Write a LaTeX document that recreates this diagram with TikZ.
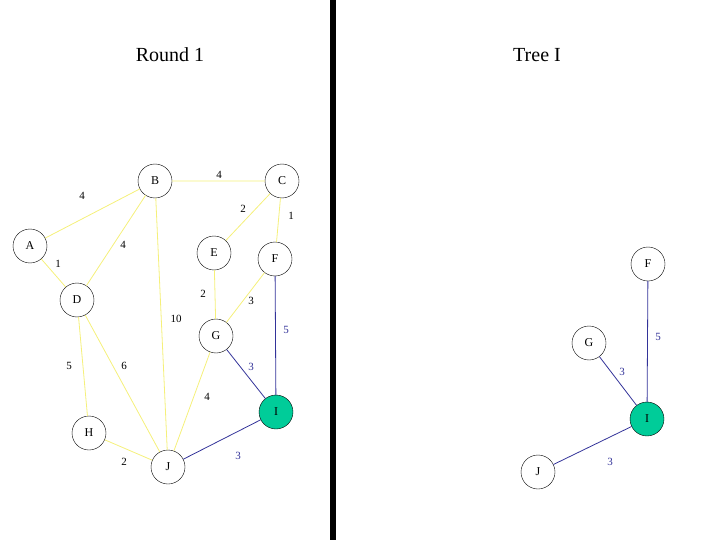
\documentclass[tikz,border=0pt]{standalone}
\usepackage{fontspec}
\setmainfont{Liberation Serif}
\definecolor{ye}{HTML}{F5F07A}
\definecolor{nv}{HTML}{333399}
\definecolor{gr}{HTML}{00CC99}
\begin{document}
\begin{tikzpicture}[x=1pt,y=-1pt,
  vx/.style={circle,draw,fill=white,minimum size=34pt,inner sep=0pt,font=\fontsize{12}{12}\selectfont},
  hot/.style={vx,fill=gr},
  ye/.style={draw=ye,line width=0.8pt},
  nv/.style={draw=nv,line width=0.8pt},
  lb/.style={font=\fontsize{11}{11}\selectfont},
  nl/.style={lb,text=nv},
  ttl/.style={font=\fontsize{20}{20}\selectfont}]
\useasboundingbox (0,0) rectangle (720,540);
\fill (330,0) rectangle (336,540);
\node[ttl] (t1) at (170,55) {Round 1};
\node[ttl] (t2) at (537,55) {Tree I};
% left graph
\node[vx] (B) at (155,181) {B};
\node[vx] (C) at (282,181) {C};
\node[vx] (A) at (30,246) {A};
\node[vx] (E) at (214,253) {E};
\node[vx] (F) at (275,259) {F};
\node[vx] (D) at (77,300) {D};
\node[vx] (G) at (216,336) {G};
\node[hot] (I) at (276,412) {I};
\node[vx] (H) at (89,433) {H};
\node[vx] (J) at (168,467) {J};
\begin{scope}[on background layer/.style={}]
\end{scope}
\draw[ye] (A)--(B) (B)--(C) (C)--(E) (C)--(F) (A)--(D) (B)--(D) (B)--(J)
 (E)--(G) (F)--(G) (D)--(H) (D)--(J) (G)--(J) (H)--(J);
\draw[nv] (F)--(I) (G)--(I) (I)--(J);
\node[lb] (l1) at (82,196) {4};
\node[lb] (l2) at (219,175) {4};
\node[lb] (l3) at (243,209) {2};
\node[lb] (l4) at (291,216) {1};
\node[lb] (l5) at (58,264) {1};
\node[lb] (l6) at (123,245) {4};
\node[lb] (l7) at (176,319) {10};
\node[lb] (l8) at (203,294) {2};
\node[lb] (l9) at (251,301) {3};
\node[lb] (l10) at (69,366) {5};
\node[lb] (l11) at (124,366) {6};
\node[lb] (l12) at (207,397) {4};
\node[lb] (l13) at (124,462) {2};
\node[nl] (l14) at (286,330) {5};
\node[nl] (l15) at (251,367) {3};
\node[nl] (l16) at (238,456) {3};
% right tree
\node[vx] (F2) at (648,264) {F};
\node[vx] (G2) at (589,343) {G};
\node[hot] (I2) at (647,419) {I};
\node[vx] (J2) at (538,472) {J};
\draw[nv] (F2)--(I2) (G2)--(I2) (I2)--(J2);
\node[nl] (r1) at (658,337) {5};
\node[nl] (r2) at (622,372) {3};
\node[nl] (r3) at (610,462) {3};
\end{tikzpicture}
\end{document}
